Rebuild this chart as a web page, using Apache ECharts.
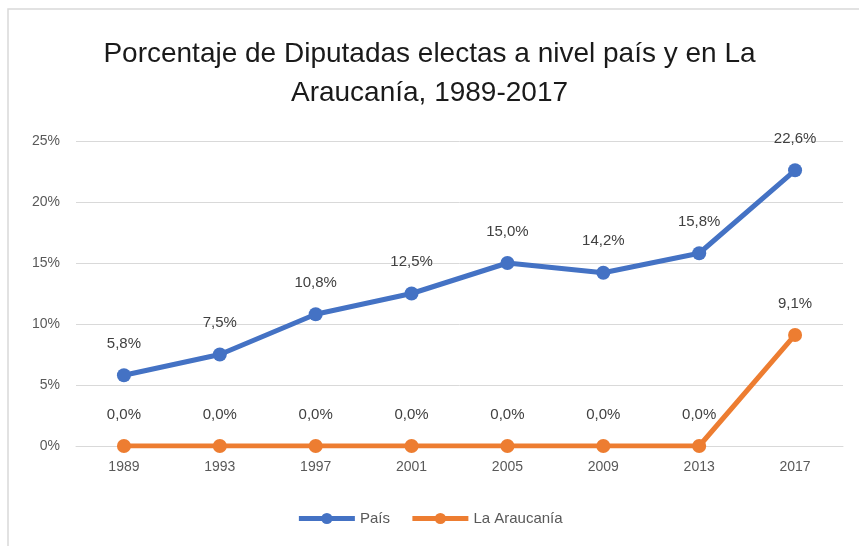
<!DOCTYPE html>
<html>
<head>
<meta charset="utf-8">
<script src="https://cdn.jsdelivr.net/npm/echarts@6/dist/echarts.min.js"></script>
<style>
  html, body { margin: 0; padding: 0; background: #fff; }
  #main { width: 859px; height: 546px; }
</style>
</head>
<body>
<div id="main"></div>
<script>
// data
var years = ['1989', '1993', '1997', '2001', '2005', '2009', '2013', '2017'];
var pais = [5.8, 7.5, 10.8, 12.5, 15.0, 14.2, 15.8, 22.6];
var araucania = [0, 0, 0, 0, 0, 0, 0, 9.1];
var yTicks = [0, 5, 10, 15, 20, 25];

var fontFam = '"Liberation Sans", "DejaVu Sans", sans-serif';

function pct(v) {
    return v.toFixed(1).replace('.', ',') + '%';
}

var option = {
    animation: false,
    backgroundColor: '#fff',
    graphic: [{
        type: 'rect',
        shape: { x: 8, y: 9, width: 880, height: 560 },
        style: { fill: 'none', stroke: '#d9d9d9', lineWidth: 1.5 },
        silent: true
    }],
    title: {
        text: 'Porcentaje de Diputadas electas a nivel país y en La\nAraucanía, 1989-2017',
        left: 'center',
        top: 30,
        textStyle: {
            fontFamily: fontFam,
            fontSize: 28,
            fontWeight: 'normal',
            color: '#1a1a1a',
            lineHeight: 39
        }
    },
    legend: {
        bottom: 15,
        left: 'center',
        itemWidth: 56,
        itemHeight: 14,
        itemGap: 20,
        textStyle: { fontFamily: fontFam, fontSize: 15, color: '#595959' },
        lineStyle: { width: 5 },
        data: ['País', 'La Araucanía']
    },
    grid: { left: 76, right: 16, top: 141, bottom: 100 },
    xAxis: {
        type: 'category',
        data: years,
        boundaryGap: true,
        axisLine: { lineStyle: { color: '#d9d9d9', width: 1 } },
        axisTick: { show: false },
        axisLabel: { color: '#595959', fontSize: 14, fontFamily: fontFam, margin: 14 }
    },
    yAxis: {
        type: 'value',
        min: yTicks[0],
        max: yTicks[yTicks.length - 1],
        interval: 5,
        axisLine: { show: false },
        axisTick: { show: false },
        splitLine: { lineStyle: { color: '#d9d9d9', width: 1 } },
        axisLabel: {
            color: '#595959', fontSize: 14, fontFamily: fontFam, margin: 16,
            formatter: function (v) { return v + '%'; }
        }
    },
    series: [
        {
            name: 'País',
            type: 'line',
            data: pais,
            symbol: 'circle',
            symbolSize: 14,
            lineStyle: { color: '#4472C4', width: 5 },
            itemStyle: { color: '#4472C4' },
            label: {
                show: true, position: 'top', distance: 17,
                color: '#404040', fontSize: 15, fontFamily: fontFam,
                formatter: function (p) { return pct(p.value); }
            }
        },
        {
            name: 'La Araucanía',
            type: 'line',
            data: araucania,
            symbol: 'circle',
            symbolSize: 14,
            lineStyle: { color: '#ED7D31', width: 5 },
            itemStyle: { color: '#ED7D31' },
            label: {
                show: true, position: 'top', distance: 17,
                color: '#404040', fontSize: 15, fontFamily: fontFam,
                formatter: function (p) { return pct(p.value); }
            }
        }
    ]
};

var chart = echarts.init(document.getElementById('main'));
chart.setOption(option);
</script>
</body>
</html>
